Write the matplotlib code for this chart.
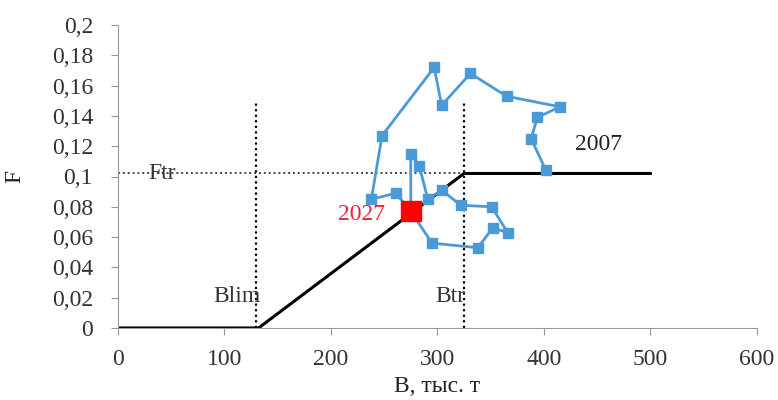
import matplotlib.pyplot as plt
from matplotlib.ticker import FuncFormatter

plt.rcParams["font.family"] = ["Liberation Serif", "DejaVu Serif"]

# trajectory of stock biomass (B) and fishing mortality (F), 2007 -> 2027
b_vals = [402, 388, 394, 415, 365, 331, 304, 297, 248, 238, 261, 275,
          275, 283, 291, 304, 322, 351, 366, 352, 338, 295, 275]
f_vals = [0.104, 0.125, 0.139, 0.146, 0.153, 0.168, 0.147, 0.172, 0.127, 0.085,
          0.089, 0.077, 0.115, 0.107, 0.085, 0.091, 0.081, 0.080, 0.063, 0.066,
          0.053, 0.056, 0.077]

# harvest control rule
hcr_b = [0, 132, 325, 500]
hcr_f = [0, 0, 0.102, 0.102]

b_lim = 130
b_tr = 325
f_tr = 0.102

fig = plt.figure(figsize=(7.78, 4.0), dpi=100)
ax = fig.add_axes([0.1517, 0.18, 0.821, 0.7575])

ax.plot(hcr_b, hcr_f, color="black", lw=2.2, zorder=2)
ax.plot([b_lim, b_lim], [0, 0.15], color="black", ls=(0, (1, 1.5)), lw=1.6, zorder=1)
ax.plot([b_tr, b_tr], [0, 0.15], color="black", ls=(0, (1, 1.5)), lw=1.6, zorder=1)
ax.plot([0, b_tr], [f_tr, f_tr], color="#444444", ls=(0, (1, 1.5)), lw=1.4, zorder=1)

ax.plot(b_vals, f_vals, color="#4a9ad8", lw=2, marker="s", markersize=7,
        markeredgecolor="#4a9ad8", zorder=3)
ax.plot(b_vals[-1], f_vals[-1], marker="s", color="#ff0000", markersize=14, zorder=4)

fs = 17
ax.text(41, f_tr, "Ftr", fontsize=fs, ha="center", va="center", color="#333333")
ax.text(112, 0.021, "Blim", fontsize=fs, ha="center", va="center", color="#333333")
ax.text(312, 0.021, "Btr", fontsize=fs, ha="center", va="center", color="#333333")
ax.text(451, 0.121, "2007", fontsize=fs, ha="center", va="center", color="#222222")
ax.text(251, 0.075, "2027", fontsize=fs, ha="right", va="center", color="#f0203a")

ax.set_xlim(0, 600)
ax.set_ylim(0, 0.2)
ax.set_xticks(range(0, 601, 100))
ax.set_yticks([i * 0.02 for i in range(11)])
ax.yaxis.set_major_formatter(FuncFormatter(lambda v, p: ("%g" % round(v, 2)).replace(".", ",")))
ax.tick_params(labelsize=fs, colors="#333333", length=5, color="#999999")
ax.tick_params(axis="x", pad=10)
ax.tick_params(axis="y", pad=13)

for s in ["top", "right"]:
    ax.spines[s].set_visible(False)
for s in ["left", "bottom"]:
    ax.spines[s].set_color("#999999")

ax.set_xlabel("B, тыс. т", fontsize=fs, color="#222222")
ax.set_ylabel("F", fontsize=fs, color="#222222")
ax.xaxis.set_label_coords(0.5, -0.16)
ax.yaxis.set_label_coords(-0.145, 0.5)

fig.savefig("out.png", dpi=100)
